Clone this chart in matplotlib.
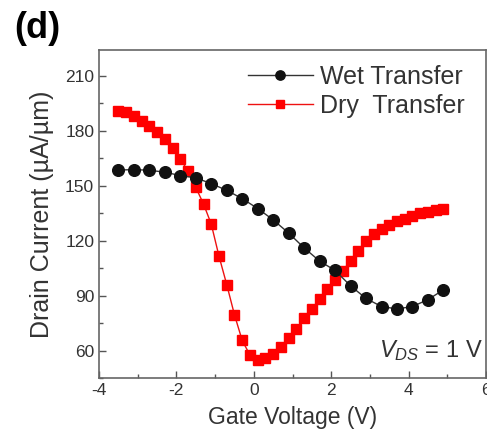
import matplotlib
matplotlib.use("Agg")
import matplotlib.pyplot as plt
from matplotlib.ticker import MultipleLocator

plt.rcParams['font.family'] = ['Liberation Sans', 'DejaVu Sans']
plt.rcParams['mathtext.fontset'] = 'custom'
plt.rcParams['mathtext.rm'] = 'Liberation Sans'
plt.rcParams['mathtext.it'] = 'Liberation Sans:italic'
plt.rcParams['axes.unicode_minus'] = False

TEXT = '#333333'

# Wet transfer, one point every 0.4 V
wet_v = [-3.5, -3.1, -2.7, -2.3, -1.9, -1.5, -1.1, -0.7, -0.3, 0.1, 0.5,
         0.9, 1.3, 1.7, 2.1, 2.5, 2.9, 3.3, 3.7, 4.1, 4.5, 4.9]
wet_i = [158.5, 158.7, 158.4, 157.3, 155.5, 154.2, 151.1, 147.4, 142.9, 137.5, 131.3,
         124.1, 116.0, 108.8, 103.7, 95.3, 88.4, 84.0, 82.7, 84.0, 87.8, 93.1]

# Dry transfer, one point every 0.2 V
dry_v = [-3.5, -3.3, -3.1, -2.9, -2.7, -2.5, -2.3, -2.1, -1.9, -1.7, -1.5,
         -1.3, -1.1, -0.9, -0.7, -0.5, -0.3, -0.1, 0.1, 0.3, 0.5, 0.7,
         0.9, 1.1, 1.3, 1.5, 1.7, 1.9, 2.1, 2.3, 2.5, 2.7, 2.9, 3.1,
         3.3, 3.5, 3.7, 3.9, 4.1, 4.3, 4.5, 4.7, 4.9]
dry_i = [190.5, 190.0, 188.0, 185.5, 182.5, 179.5, 175.5, 170.5, 164.5, 158.0, 149.0,
         140.0, 129.0, 111.5, 96.0, 79.5, 65.5, 57.5, 55.0, 56.0, 58.0, 62.0,
         67.0, 72.0, 77.5, 82.5, 88.0, 93.5, 98.5, 103.5, 109.0, 114.5, 119.5, 123.5,
         126.5, 128.5, 130.5, 132.0, 133.5, 134.8, 135.8, 136.5, 137.2]

fig = plt.figure(figsize=(4.87, 4.37), dpi=100)
ax = fig.add_axes([0.2033, 0.135, 0.7947, 0.7506])

ax.plot(wet_v, wet_i, color='#333333', lw=1.0, marker='o', ms=8.4,
        mfc='#111111', mec='#111111', label='Wet Transfer', zorder=3)
ax.plot(dry_v, dry_i, color='#ee1111', lw=1.0, marker='s', ms=7.8,
        mfc='#ff0000', mec='#ff0000', label='Dry  Transfer', zorder=2)

ax.set_xlim(-4, 6)
ax.set_ylim(45, 224)
ax.xaxis.set_major_locator(MultipleLocator(2))
ax.xaxis.set_minor_locator(MultipleLocator(1))
ax.yaxis.set_major_locator(MultipleLocator(30))
ax.yaxis.set_minor_locator(MultipleLocator(15))
ax.tick_params(which='both', direction='in', colors='#555555', labelcolor=TEXT,
               labelsize=12.5, width=1.0)
ax.tick_params(which='major', length=5)
ax.tick_params(which='minor', length=3)
for s in ax.spines.values():
    s.set_color('#666666')
    s.set_linewidth(1.2)

ax.set_xlabel('Gate Voltage (V)', fontsize=16.5, color=TEXT, labelpad=6)
ax.set_ylabel('Drain Current (\u00b5A/\u00b5m)', fontsize=18, color=TEXT, labelpad=8)

ax.legend(loc='upper right', bbox_to_anchor=(0.985, 1.0), frameon=False,
          fontsize=18, handlelength=2.6, handletextpad=0.3, labelspacing=0.2,
          labelcolor=TEXT, borderaxespad=0.2, markerscale=0.8)

ax.text(0.992, 0.064, '$V_{DS}$ = 1 V', transform=ax.transAxes, ha='right',
        va='baseline', fontsize=17, color=TEXT)

fig.text(0.03, 0.975, '(d)', fontsize=26, fontweight='bold', va='top', ha='left')

fig.savefig('out.png', dpi=100)
